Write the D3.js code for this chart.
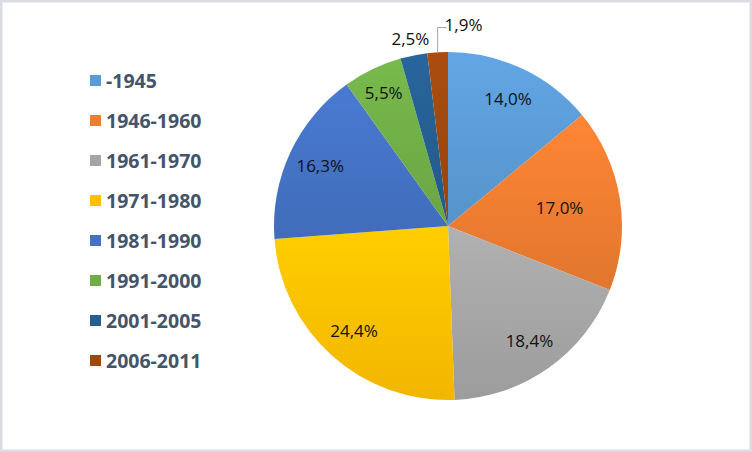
<!DOCTYPE html>
<html>
<head>
<meta charset="utf-8">
<script src="https://cdn.jsdelivr.net/npm/d3@7"></script>
<style>
  html, body { margin: 0; padding: 0; background: #fff; }
  svg { display: block; }
</style>
</head>
<body>
<script>
let categories = ["-1945", "1946-1960", "1961-1970", "1971-1980", "1981-1990", "1991-2000", "2001-2005", "2006-2011"];
let values = [14.0, 17.0, 18.4, 24.4, 16.3, 5.5, 2.5, 1.9];
let labels = ["14,0%", "17,0%", "18,4%", "24,4%", "16,3%", "5,5%", "2,5%", "1,9%"];
let colors = ["#5B9BD5", "#ED7D31", "#A5A5A5", "#FFC000", "#4472C4", "#70AD47", "#255E91", "#9E480E"];

let x = 752;
let y = 452;
let svg = d3.select("body").append("svg").attr("width", x).attr("height", y);

// frame
svg.append("rect")
  .attr("x", 1).attr("y", 1)
  .attr("width", x - 2).attr("height", y - 2)
  .attr("fill", "#fff")
  .attr("stroke", "#d9dce2")
  .attr("stroke-width", 3);

let cx = 448, cy = 226, R = 174;
let data = categories.map((c, i) => ({ name: c, value: values[i], label: labels[i], color: colors[i] }));

let pie = d3.pie().value(d => d.value).sort(null);
let arc = d3.arc().innerRadius(0).outerRadius(R);
let arcs = pie(data);

let defs = svg.append("defs");
data.forEach((d, i) =>
{
  let g = defs.append("linearGradient")
    .attr("id", "grad" + i)
    .attr("x1", 0).attr("y1", 0).attr("x2", 0).attr("y2", 1);
  g.append("stop").attr("offset", "0%").attr("stop-color", d3.color(d.color).brighter(0.2));
  g.append("stop").attr("offset", "100%").attr("stop-color", d3.color(d.color).darker(0.15));
});

let chart = svg.append("g").attr("transform", "translate(" + cx + "," + cy + ")");

chart.selectAll("path").data(arcs).enter().append("path")
  .attr("d", arc)
  .attr("fill", (d, i) => "url(#grad" + i + ")");

// labels: inside for the large slices, outside for the two small ones
let labelFont = "'Open Sans', 'Noto Sans', sans-serif";
let inner = d3.arc().innerRadius(141).outerRadius(141);
let innerNarrow = d3.arc().innerRadius(113).outerRadius(113);
let outer = d3.arc().innerRadius(191).outerRadius(191);

chart.selectAll(".lbl").data(arcs).enter().append("text")
  .attr("class", "lbl")
  .attr("transform", (d, i) =>
  {
    let p;
    if (i == 7) return "translate(" + (outer.centroid(d)[0] + 8) + "," + (-201) + ")";
    if (i == 6) p = outer.centroid(d);
    else if (i == 5) p = d3.arc().innerRadius(148).outerRadius(148).centroid(d);
    else if (i == 1) p = innerNarrow.centroid(d);
    else p = inner.centroid(d);
    return "translate(" + p[0] + "," + p[1] + ")";
  })
  .attr("text-anchor", (d, i) => i == 7 ? "start" : "middle")
  .attr("dy", "0.36em")
  .attr("font-family", labelFont)
  .attr("font-size", "17px")
  .attr("fill", "#111")
  .text(d => d.data.label);

// leader line for the smallest slice
let last = arcs[7];
let tip = d3.arc().innerRadius(R).outerRadius(R).centroid(last);
chart.append("path")
  .attr("d", "M" + tip[0] + "," + (tip[1] + 1) + "V" + (-198.5) + "H" + (-1.3))
  .attr("fill", "none")
  .attr("stroke", "#a6a6a6")
  .attr("stroke-width", 1);

// legend
let legend = svg.append("g").selectAll("g").data(data).enter().append("g")
  .attr("transform", (d, i) => "translate(90," + (81 + i * 40) + ")");
legend.append("rect")
  .attr("x", 0).attr("y", -6)
  .attr("width", 11).attr("height", 11)
  .attr("fill", d => d.color);
legend.append("text")
  .attr("x", 16)
  .attr("dy", "0.36em")
  .attr("font-family", labelFont)
  .attr("font-weight", "bold")
  .attr("font-size", "19.5px")
  .attr("fill", "#44546A")
  .text(d => d.name);
</script>
</body>
</html>
